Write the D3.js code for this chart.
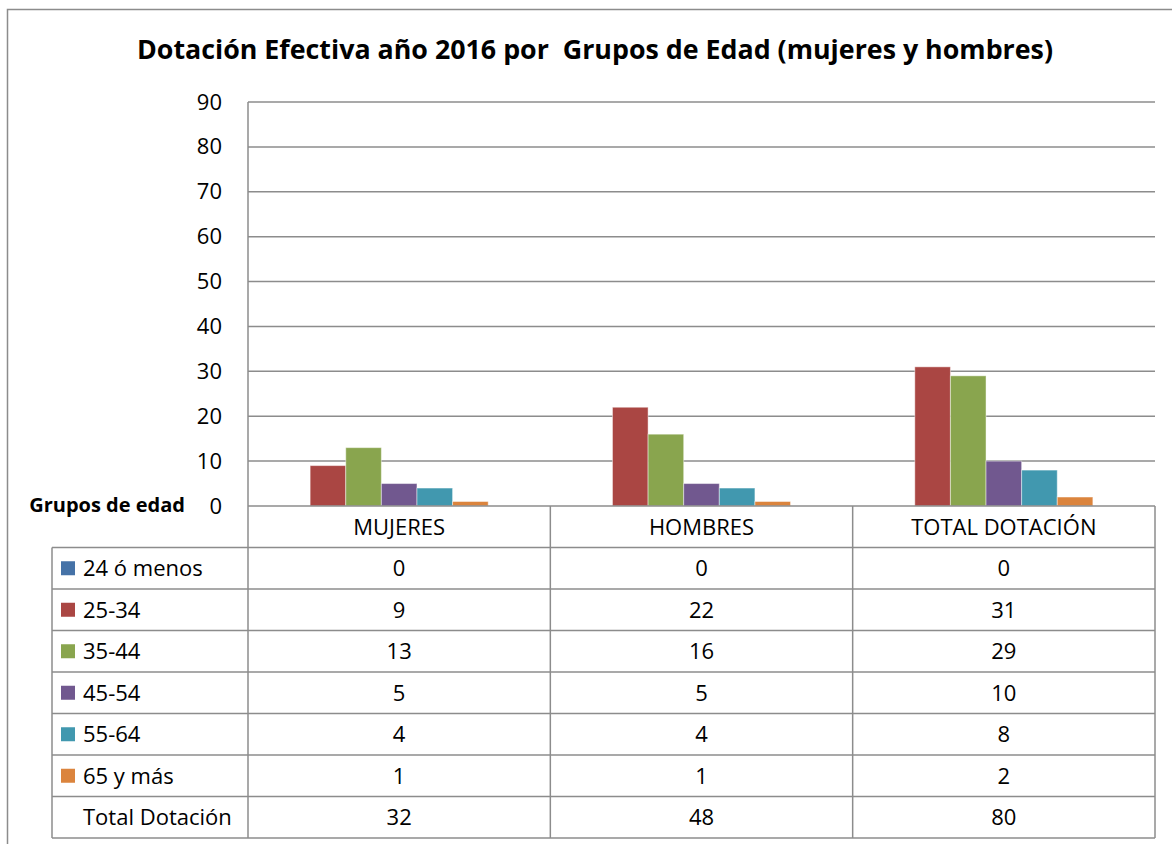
<!DOCTYPE html>
<html>
<head>
<meta charset="utf-8">
<script src="https://cdn.jsdelivr.net/npm/d3@7"></script>
<style>
  body { margin: 0; background: #fff; }
  text { font-family: "Open Sans", sans-serif; fill: #000; }
</style>
</head>
<body>
<div id="chart-area"></div>
<script>
// data
var categories = ["MUJERES", "HOMBRES", "TOTAL DOTACIÓN"];
var series = ["24 ó menos", "25-34", "35-44", "45-54", "55-64", "65 y más"];
var values = [
  [0, 0, 0],
  [9, 22, 31],
  [13, 16, 29],
  [5, 5, 10],
  [4, 4, 8],
  [1, 1, 2]
];
var totals = [32, 48, 80];
var yTicks = [0, 10, 20, 30, 40, 50, 60, 70, 80, 90];
var colors = ["#4572A7", "#AA4643", "#89A54E", "#71588F", "#4198AF", "#DB843D"];
// series shown as bars in the plot (first group is not plotted in the original)
var plotted = series.slice(1);

var W = 1172, H = 844;
var plot = {left: 248, right: 1155, top: 102, bottom: 506};
var tableLeft = 52, tableBottom = 838;
var lineColor = "#8c8c8c";

var svg = d3.select("#chart-area").append("svg")
  .attr("width", W).attr("height", H);

// outer chart border
svg.append("rect")
  .attr("x", 7.5).attr("y", 9.5)
  .attr("width", W + 10).attr("height", H + 10)
  .attr("fill", "none").attr("stroke", lineColor).attr("stroke-width", 1.5);

svg.append("text")
  .attr("x", 595).attr("y", 59)
  .attr("text-anchor", "middle")
  .attr("font-size", "26.8px").attr("font-weight", "bold")
  .style("white-space", "pre")
  .text("Dotación Efectiva año 2016 por  Grupos de Edad (mujeres y hombres)");

var x = d3.scaleBand().domain(categories).range([plot.left, plot.right]);
var xs = d3.scaleBand().domain(plotted).range([0, x.bandwidth()]).paddingOuter(1.745);
var y = d3.scaleLinear().domain([0, 90]).range([plot.bottom, plot.top]);

// gridlines
svg.append("g").selectAll("line").data(yTicks.slice(1)).enter().append("line")
  .attr("x1", plot.left).attr("x2", plot.right)
  .attr("y1", d => y(d)).attr("y2", d => y(d))
  .attr("stroke", lineColor).attr("stroke-width", 1.5);

// y axis labels
var yAxis = d3.axisLeft(y).tickValues(yTicks).tickSize(0).tickPadding(26);
svg.append("g")
  .attr("transform", "translate(" + plot.left + ",0)")
  .call(yAxis)
  .call(g => g.select(".domain").remove())
  .selectAll("text")
  .attr("font-size", "22px")
  .attr("font-family", "'Open Sans', sans-serif")
  .attr("fill", "#000");

svg.append("text")
  .attr("x", 185).attr("y", 512)
  .attr("text-anchor", "end")
  .attr("font-size", "20px").attr("font-weight", "bold")
  .text("Grupos de edad");

// bars
plotted.forEach(s => {
  var i = series.indexOf(s);
  svg.append("g").selectAll("rect").data(values[i]).enter().append("rect")
    .attr("x", (d, j) => x(categories[j]) + xs(s))
    .attr("width", xs.bandwidth())
    .attr("y", d => y(d))
    .attr("height", d => y(0) - y(d))
    .attr("fill", colors[i])
    .attr("stroke", "rgba(255,255,255,0.45)")
    .attr("stroke-width", 1);
});

// data table
var rows = ["header"].concat(series).concat(["Total Dotación"]);
var r = d3.scaleBand().domain(rows).range([plot.bottom, tableBottom]);
var tableRows = series.map((s, i) => ({label: s, color: colors[i], vals: values[i]}));
tableRows.push({label: "Total Dotación", color: null, vals: totals});

var tg = svg.append("g");
// horizontal lines
rows.forEach((row, k) => {
  tg.append("line")
    .attr("x1", k == 0 ? plot.left : tableLeft).attr("x2", plot.right)
    .attr("y1", r(row)).attr("y2", r(row))
    .attr("stroke", lineColor).attr("stroke-width", 1.5);
});
tg.append("line")
  .attr("x1", tableLeft).attr("x2", plot.right)
  .attr("y1", tableBottom).attr("y2", tableBottom)
  .attr("stroke", lineColor).attr("stroke-width", 1.5);
// vertical lines
tg.append("line")
  .attr("x1", tableLeft).attr("x2", tableLeft)
  .attr("y1", r(series[0])).attr("y2", tableBottom)
  .attr("stroke", lineColor).attr("stroke-width", 1.5);
tg.append("line")
  .attr("x1", plot.left).attr("x2", plot.left)
  .attr("y1", plot.top).attr("y2", tableBottom)
  .attr("stroke", lineColor).attr("stroke-width", 1.5);
categories.forEach(c => {
  tg.append("line")
    .attr("x1", x(c) + x.bandwidth()).attr("x2", x(c) + x.bandwidth())
    .attr("y1", plot.bottom).attr("y2", tableBottom)
    .attr("stroke", lineColor).attr("stroke-width", 1.5);
});

// header text
tg.selectAll(".hdr").data(categories).enter().append("text")
  .attr("class", "hdr")
  .attr("x", d => x(d) + x.bandwidth() / 2)
  .attr("y", r("header") + r.bandwidth() / 2 + 8)
  .attr("text-anchor", "middle")
  .attr("font-size", "22px")
  .text(d => d);

tableRows.forEach(row => {
  var cy = r(row.label) + r.bandwidth() / 2;
  if (row.color) {
    tg.append("rect")
      .attr("x", 61).attr("y", cy - 7)
      .attr("width", 14).attr("height", 14)
      .attr("fill", row.color);
  }
  tg.append("text")
    .attr("x", 83).attr("y", cy + 8)
    .attr("font-size", "22px")
    .text(row.label);
  tg.selectAll(null).data(row.vals).enter().append("text")
    .attr("x", (d, j) => x(categories[j]) + x.bandwidth() / 2)
    .attr("y", cy + 8)
    .attr("text-anchor", "middle")
    .attr("font-size", "22px")
    .text(d => d);
});
</script>
</body>
</html>
